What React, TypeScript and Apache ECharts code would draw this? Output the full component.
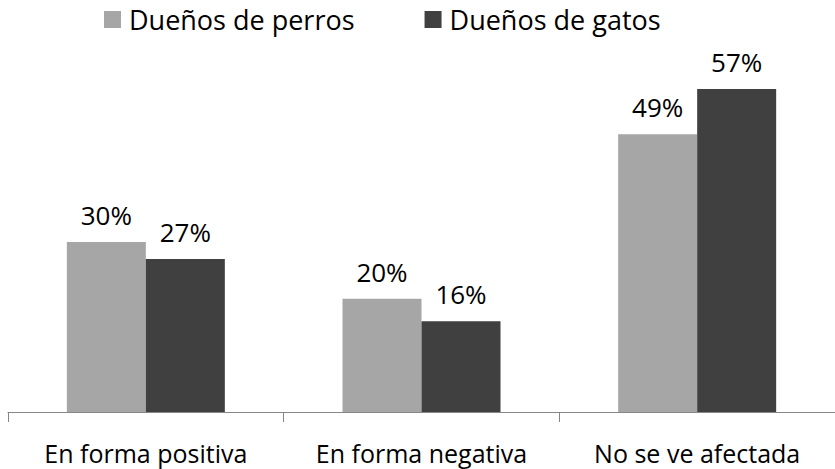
import React, { useEffect, useRef } from "react";
import * as echarts from "echarts";

const categories = ["En forma positiva", "En forma negativa", "No se ve afectada"];
const seriesNames = ["Dueños de perros", "Dueños de gatos"];
const perros = [30, 20, 49];
const gatos = [27, 16, 57];

const FONT = "'Open Sans', 'Noto Sans', sans-serif";

export default function App() {
  const ref = useRef<HTMLDivElement>(null);
  useEffect(() => {
    const chart = echarts.init(ref.current!, undefined, { renderer: "svg" });
    const label = {
      show: true,
      position: "top",
      distance: 14,
      formatter: "{c}%",
      fontSize: 26,
      color: "#000",
      fontFamily: FONT,
    };
    chart.setOption({
      animation: false,
      backgroundColor: "#ffffff",
      textStyle: { fontFamily: FONT },
      legend: {
        top: 6,
        left: 104,
        padding: 0,
        itemWidth: 17,
        itemHeight: 17,
        itemGap: 70,
        icon: "rect",
        textStyle: { fontSize: 27, color: "#000", fontFamily: FONT, padding: [0, 0, 0, 3] },
        data: seriesNames,
      },
      grid: { left: 8, right: -6, top: 72, bottom: 57 },
      xAxis: {
        type: "category",
        data: categories,
        axisLine: { lineStyle: { color: "#868686", width: 1 } },
        axisTick: { show: true, length: 10, lineStyle: { color: "#868686" } },
        axisLabel: { fontSize: 25, color: "#000", margin: 28, fontFamily: FONT },
      },
      yAxis: {
        type: "value",
        min: 0,
        max: 60,
        show: false,
        splitLine: { show: false },
      },
      series: [
        {
          name: seriesNames[0],
          type: "bar",
          data: perros,
          barWidth: 79,
          barGap: "0%",
          itemStyle: { color: "#A6A6A6" },
          label,
        },
        {
          name: seriesNames[1],
          type: "bar",
          data: gatos,
          barWidth: 79,
          barGap: "0%",
          itemStyle: { color: "#404040" },
          label,
        },
      ],
    });
    return () => chart.dispose();
  }, []);
  return <div ref={ref} style={{ position: "absolute", left: 0, top: 0, width: 835, height: 469 }} />;
}
